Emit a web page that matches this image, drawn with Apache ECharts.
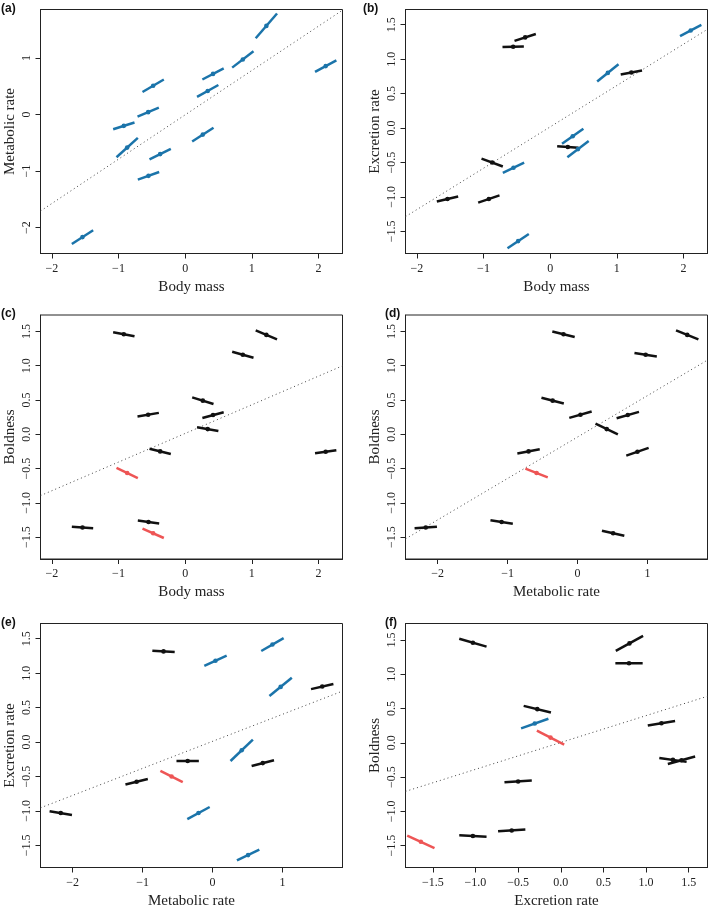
<!DOCTYPE html>
<html><head><meta charset="utf-8">
<script src="https://cdn.jsdelivr.net/npm/echarts@6/dist/echarts.min.js"></script>
<style>html,body{margin:0;padding:0;background:#fff}#c{width:709px;height:910px}</style>
</head><body><div id="c"></div>
<script>
// ---- individual values (13 individuals) ----
const bodyMass      = [-1.54, -0.92, -0.87, -0.555, -0.48, -0.55, -0.375, 0.265, 0.338, 0.418, 0.865, 1.218, 2.108];
const metabolicRate = [-2.17, -0.20, -0.585, 0.043, 0.51, -1.085, -0.70, -0.355, 0.418, 0.72, 0.975, 1.57, 0.858];
const excretionRate = [-1.03, -1.03, -0.50, 1.18, -1.64, -0.575, 1.315, -0.275, -0.12, -0.305, 0.80, 0.805, 1.415];
const boldness      = [-1.36, 1.46, -0.565, 0.285, -1.445, -1.28, -0.25, 0.49, 0.075, 0.28, 1.16, 1.45, -0.255];

// ---- per-panel segment slopes (data units) ----
const slopesA = [0.755, 0.374, 1.07, 0.50, 0.69, 0.42, 0.59, 0.755, 0.66, 0.62, 0.90, 1.37, 0.64];
const slopesB = [0.23, 0.33, -0.36, 0.03, 0.65, 0.46, 0.31, -0.06, 0.68, 0.74, 0.78, 0.18, 0.51];
const slopesC = [-0.075, -0.18, -0.46, 0.17, -0.43, -0.135, -0.24, -0.30, -0.17, 0.26, -0.27, -0.41, 0.135];
const slopesD = [0.075, -0.25, -0.40, 0.29, -0.23, -0.154, 0.20, -0.26, -0.49, 0.29, -0.155, -0.41, 0.355];
const slopesE = [-0.17, 0.55, -0.51, 0.47, 0.485, 0.25, -0.06, 0.0, 0.97, 0.26, 0.83, 0.23, 0.585];
const slopesF = [-0.06, -0.36, 0.08, 0.21, -0.57, 0.08, -0.18, -0.30, -0.64, 0.44, 0.0, 0.68, 0.34];

// ---- per-panel colour groups: b = blue, k = black, r = red ----
const groupsA = ['b','b','b','b','b','b','b','b','b','b','b','b','b'];
const groupsB = ['k','k','k','k','b','b','k','k','b','b','b','k','b'];
const groupsC = ['k','k','r','k','r','k','k','k','k','k','k','k','k'];
const groupsD = ['k','k','r','k','k','k','k','k','k','k','k','k','k'];
const groupsE = ['k','b','r','b','b','k','k','k','b','k','b','k','b'];
const groupsF = ['k','k','k','k','r','k','k','k','r','b','k','k','k'];

// ---- regression lines: [intercept, slope] ----
const regA = [-0.005, 0.785];
const regB = [0.017, 0.60];
const regC = [0.012, 0.418];
const regD = [-0.041, 0.604];
const regE = [0.010, 0.392];
const regF = [0.004, 0.392];

// ---- axis ranges and tick labels ----
const rangeBodyMass = [-2.17, 2.36];
const rangeMetabolic = [-2.46, 1.86];
const rangeExcretion = [-1.82, 1.72];
const rangeBoldness = [-1.82, 1.74];
const ticksBodyMass = [-2, -1, 0, 1, 2];
const ticksMetabolic = [-2, -1, 0, 1];
const ticksHalf = [-1.5, -1.0, -0.5, 0.0, 0.5, 1.0, 1.5];

const SERIF = '"Liberation Serif","Times New Roman",serif';
const COLORS = {b:'#1b74aa', k:'#111111', r:'#ee5555'};
const H = 0.16;

const vars = {
  bm: {v: bodyMass, range: rangeBodyMass, ticks: ticksBodyMass, dec: 0, name: 'Body mass'},
  mr: {v: metabolicRate, range: rangeMetabolic, ticks: ticksMetabolic, dec: 0, name: 'Metabolic rate'},
  ex: {v: excretionRate, range: rangeExcretion, ticks: ticksHalf, dec: 1, name: 'Excretion rate'},
  bo: {v: boldness, range: rangeBoldness, ticks: ticksHalf, dec: 1, name: 'Boldness'}
};

const panels = [
  {label:'(a)', x:'bm', y:'mr', slopes:slopesA, groups:groupsA, reg:regA},
  {label:'(b)', x:'bm', y:'ex', slopes:slopesB, groups:groupsB, reg:regB},
  {label:'(c)', x:'bm', y:'bo', slopes:slopesC, groups:groupsC, reg:regC},
  {label:'(d)', x:'mr', y:'bo', slopes:slopesD, groups:groupsD, reg:regD},
  {label:'(e)', x:'mr', y:'ex', slopes:slopesE, groups:groupsE, reg:regE},
  {label:'(f)', x:'ex', y:'bo', slopes:slopesF, groups:groupsF, reg:regF}
];

const gridLefts = [40.5, 405.5];
const gridTops = [9.5, 315, 623.5];
const labelPos = [[1, 3], [363, 3], [1, 308], [385, 308], [1, 617], [385, 617]];

function fmt(dec) {
  return function (v) {
    const a = Math.abs(v).toFixed(dec);
    return (v < -1e-9 ? '\u2212' : '') + a;
  };
}

function makeAxis(info, gi, isY) {
  return {
    type: 'value', gridIndex: gi, min: info.range[0], max: info.range[1],
    name: info.name, nameLocation: 'middle', nameGap: isY ? 23 : 26,
    nameTextStyle: {fontFamily: SERIF, fontSize: 15, color: '#222'},
    axisLine: {show: true, onZero: false, lineStyle: {color: '#222', width: 1}},
    axisTick: {show: true, inside: false, length: 5, customValues: info.ticks, lineStyle: {color: '#222'}},
    axisLabel: {customValues: info.ticks, formatter: fmt(info.dec), rotate: isY ? 90 : 0,
      margin: isY ? 8 : 9, fontFamily: SERIF, fontSize: 12, color: '#222'},
    splitLine: {show: false}
  };
}

const grid = [], xAxis = [], yAxis = [], series = [], title = [];
panels.forEach(function (p, i) {
  const col = i % 2, row = Math.floor(i / 2);
  grid.push({left: gridLefts[col], top: gridTops[row], width: 302, height: 244,
    show: true, borderColor: '#222', borderWidth: 1, containLabel: false});
  const xi = vars[p.x], yi = vars[p.y];
  xAxis.push(makeAxis(xi, i, false));
  yAxis.push(makeAxis(yi, i, true));
  title.push({text: p.label, left: labelPos[i][0], top: labelPos[i][1], padding: 0,
    textStyle: {fontFamily: '"Liberation Sans",Arial,sans-serif', fontWeight: 'bold', fontSize: 12, color: '#111'}});
  const x0 = xi.range[0], x1 = xi.range[1];
  series.push({
    type: 'line', xAxisIndex: i, yAxisIndex: i, symbol: 'none', silent: true, clip: true, z: 1,
    lineStyle: {type: [1, 3], color: '#444', width: 1},
    data: [[x0, p.reg[0] + p.reg[1] * x0], [x1, p.reg[0] + p.reg[1] * x1]]
  });
  const groups = p.groups;
  series.push({
    type: 'custom', xAxisIndex: i, yAxisIndex: i, clip: true, z: 3,
    encode: {x: 0, y: 1},
    data: xi.v.map(function (xv, k) { return [xv, yi.v[k], p.slopes[k], k]; }),
    renderItem: function (params, api) {
      const x = api.value(0), y = api.value(1), s = api.value(2), k = api.value(3);
      const a = api.coord([x - H, y - H * s]), b = api.coord([x + H, y + H * s]), c = api.coord([x, y]);
      const color = COLORS[groups[k]];
      return {type: 'group', children: [
        {type: 'line', shape: {x1: a[0], y1: a[1], x2: b[0], y2: b[1]}, style: {stroke: color, lineWidth: 2.5}},
        {type: 'circle', shape: {cx: c[0], cy: c[1], r: 2.3}, style: {fill: color}}
      ]};
    }
  });
});

const chart = echarts.init(document.getElementById('c'), null, {renderer: 'canvas'});
chart.setOption({animation: false, backgroundColor: '#fff', title: title, grid: grid, xAxis: xAxis, yAxis: yAxis, series: series});
</script>
</body></html>
